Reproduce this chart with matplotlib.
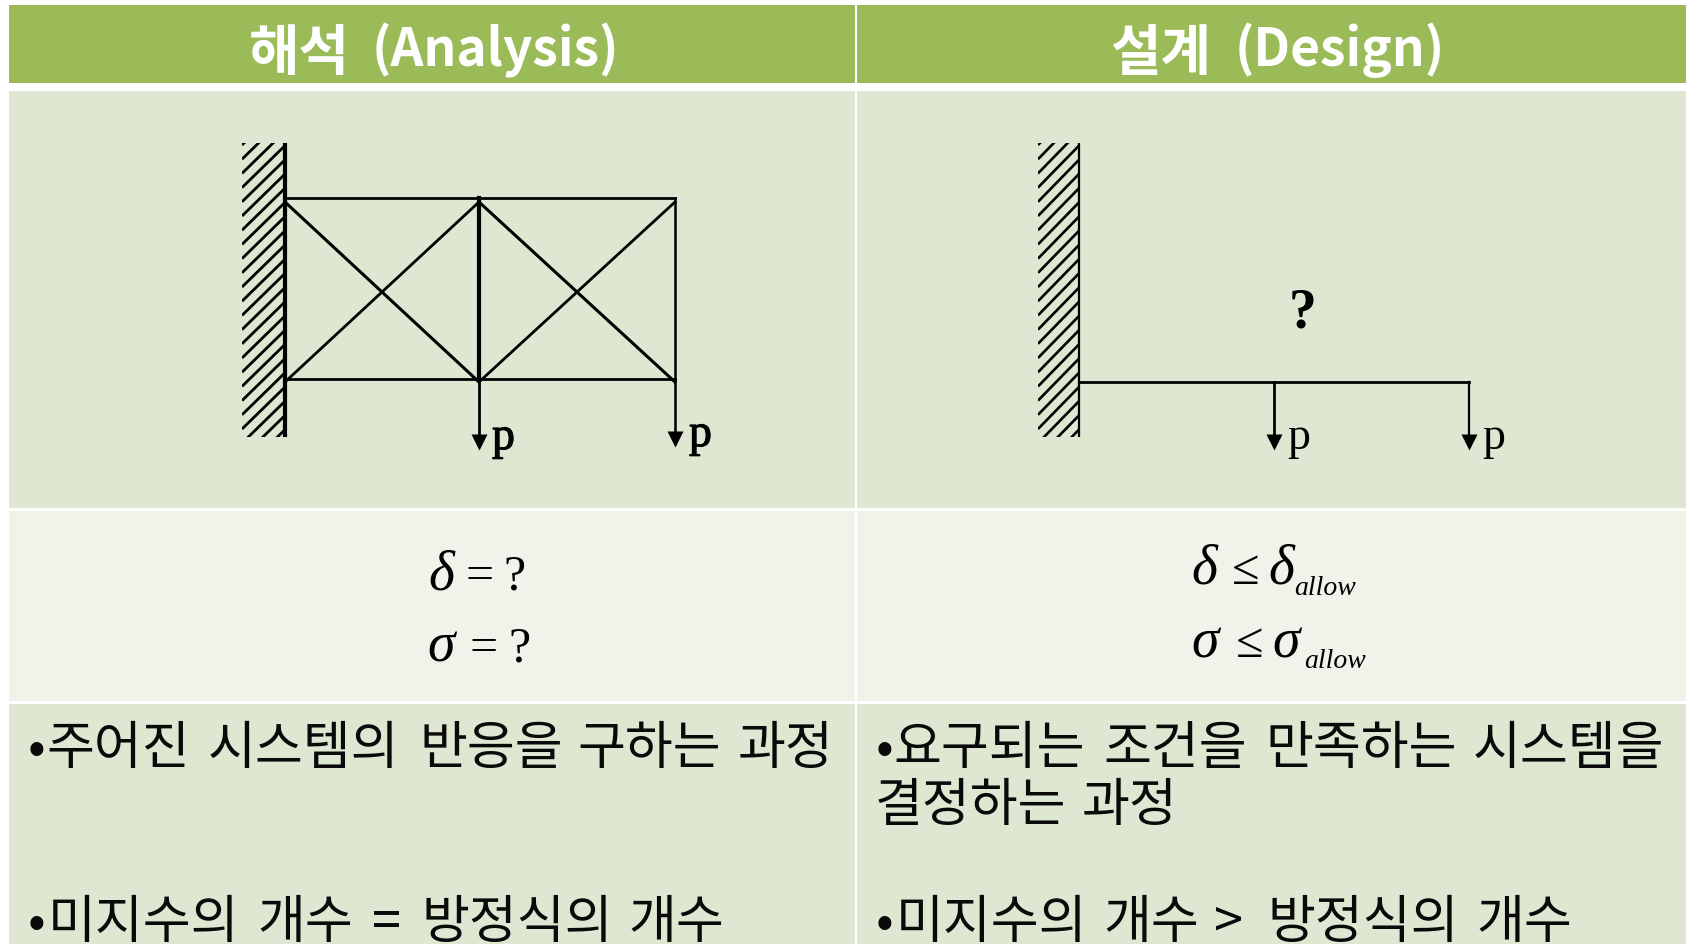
import numpy as np
import matplotlib
matplotlib.use("Agg")
import matplotlib.pyplot as plt
import matplotlib.patheffects as pe
from matplotlib.patches import Rectangle

KR = ['Noto Sans CJK KR', 'DejaVu Sans']
SERIF = ['Liberation Serif', 'DejaVu Serif']

HEAD, DARK, LIGHT = '#9BBB59', '#DEE7D1', '#EFF3EA'
columns = [(9, 854.5), (856.5, 1686)]
rows = [(5, 83, HEAD), (91, 508, DARK), (511, 701, LIGHT), (704, 944, DARK)]

# header pieces: x, text
header_ko = [(249, '해석'), (1110, '설계')]
header_en = [(372, '(Analysis)'), (1235, '(Design)')]

# truss and beam geometry
wall_l = (242, 285, 143, 437)
wall_r = (1038, 1079, 143, 437)
truss_x = [285, 479, 675]
truss_y = [198, 379]
diag_y = [202, 382]
beam_x = [1079, 1274, 1469]
beam_y = 382
load_tip = 450

# body words: line y, then (x, word)
body_lines = [
    (749, [(28, '•'), (46, '주어진'), (208, '시스템의'), (420, '반응을'), (577, '구하는'), (738, '과정')]),
    (749, [(876, '•'), (893, '요구되는'), (1103, '조건을'), (1265, '만족하는'), (1473, '시스템을')]),
    (806, [(875, '결정하는'), (1082, '과정')]),
    (923, [(28, '•'), (48, '미지수의'), (257, '개수'), (372, '='), (422, '방정식의'), (628, '개수')]),
    (923, [(876, '•'), (896, '미지수의'), (1103, '개수'), (1214, '>'), (1268, '방정식의'), (1476, '개수')]),
]

# formula pieces: x, y, text
symbols = [
    (428, 589, 'δ'), (427, 661, 'σ'),
    (1191, 584, 'δ'), (1268, 584, 'δ'),
    (1191, 657, 'σ'), (1272, 657, 'σ'),
]
operators = [
    (465, 589, '='), (503, 589, '?'),
    (469, 661, '='), (508, 661, '?'),
    (1232, 584, '≤'), (1236, 657, '≤'),
]
subscripts = [(1294, 595, 'allow'), (1304, 668, 'allow')]

fig = plt.figure(figsize=(16.86, 9.44), dpi=100, facecolor='white')
ax = fig.add_axes([0, 0, 1, 1])
ax.set_xlim(0, 1686)
ax.set_ylim(944, 0)
ax.axis('off')

for x0, x1 in columns:
    for y0, y1, c in rows:
        ax.add_patch(Rectangle((x0, y0), x1 - x0, y1 - y0, fc=c, ec='none', zorder=0))

for x, t in header_ko:
    ax.text(x, 70, t, color='white', fontsize=39.5, fontweight='bold', family=KR, ha='left', va='baseline')
for x, t in header_en:
    ax.text(x, 66, t, color='white', fontsize=37, fontweight='bold', family=KR, ha='left', va='baseline')


def wall(x0, x1, y0, y1, lw, hlw):
    clip = Rectangle((x0, y0), x1 - x0, y1 - y0, transform=ax.transData)
    for y in np.arange(y0 - 40, y1 + 14, 14.2):
        ln, = ax.plot([x1, x0], [y, y + 42], color='black', lw=hlw, solid_capstyle='butt')
        ln.set_clip_path(clip)
    ax.plot([x1, x1], [y0, y1], color='black', lw=lw, solid_capstyle='butt')


def load(x, y0, tip, px, stroke, lw):
    ax.plot([x, x], [y0, tip - 10], color='black', lw=lw)
    ax.plot([x], [tip - 8], marker='v', ms=11.5, color='black', mec='none')
    t = ax.text(px, tip - 1, 'p', family=SERIF, fontsize=33, color='black', ha='left', va='baseline')
    if stroke:
        t.set_path_effects([pe.withStroke(linewidth=stroke, foreground='black')])


wall(*wall_l, 3.0, 2.0)
wall(*wall_r, 1.6, 1.9)

xa, xb, xc = truss_x
yt, yb = truss_y
dt, db = diag_y
for (p, q, lw) in [
    ((xa, xc), (yt, yt), 2.0), ((xa, xc), (yb, yb), 2.0),
    ((xb, xb), (yt, yb), 3.0), ((xc, xc), (yt, yb), 1.8),
    ((xa, xb), (dt, db), 2.2), ((xa, xb), (db, dt), 2.0),
    ((xb, xc), (dt, db), 2.2), ((xb, xc), (db, dt), 2.0),
]:
    ax.plot(p, q, color='black', lw=lw)
load(xb, yb, load_tip, 492, 0.8, 2.0)
load(xc, yb, load_tip - 3, 689, 0.8, 1.8)

ax.plot([beam_x[0], beam_x[2]], [beam_y, beam_y], color='black', lw=2.0)
load(beam_x[1], beam_y, load_tip, 1287, 0, 2.0)
load(beam_x[2], beam_y, load_tip, 1482, 0, 1.6)
ax.text(1303, 327, '?', family=SERIF, fontsize=40, fontweight='bold', color='black', ha='center', va='baseline')

for x, y, t in symbols:
    ax.text(x, y, t, family=SERIF, style='italic', fontsize=40, color='black', ha='left', va='baseline')
for x, y, t in operators:
    ax.text(x, y, t, family=SERIF, fontsize=36, color='black', ha='left', va='baseline')
for x, y, t in subscripts:
    ax.text(x, y, t, family=SERIF, style='italic', fontsize=20, color='black', ha='left', va='baseline')

for y, words in body_lines:
    for x, t in words:
        ax.text(x, y, t, family=KR, fontsize=37.5, color='#0a0a0a', ha='left', va='center')

fig.savefig('out.png', dpi=100)
